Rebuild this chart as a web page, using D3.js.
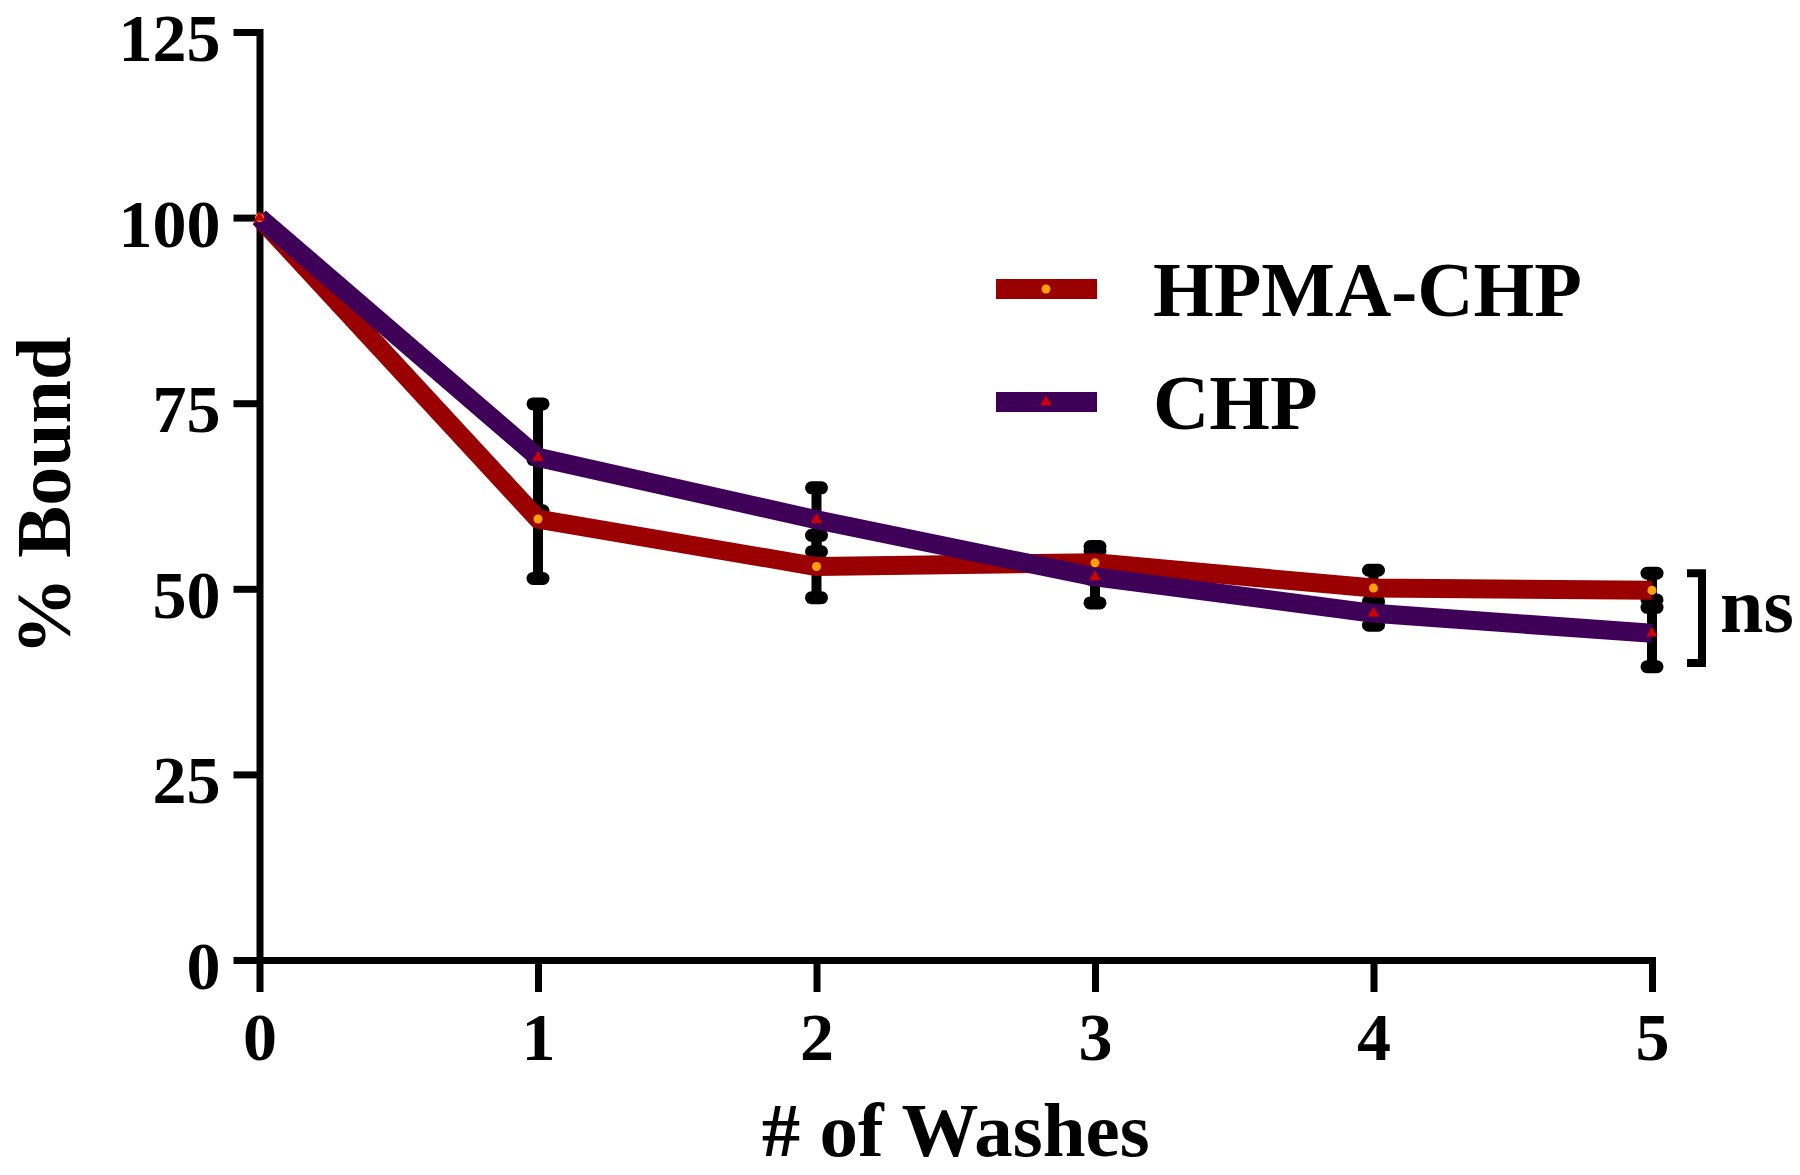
<!DOCTYPE html>
<html><head><meta charset="utf-8">
<script src="https://cdn.jsdelivr.net/npm/d3@7"></script>
<style>body{margin:0;background:#fff}svg{display:block}</style></head>
<body><svg id="c" width="1800" height="1175"></svg>
<script>
const washes = [0, 1, 2, 3, 4, 5];
const hpmaMean = [100, 59.4, 53.0, 53.5, 50.1, 49.8];
const hpmaErr  = [0, 8.0, 4.2, 2.2, 2.4, 2.3];
const chpMean  = [100, 67.7, 59.3, 51.6, 46.7, 44.0];
const chpErr   = [0, 7.2, 4.3, 3.5, 1.6, 4.5];
const yTicks = [0, 25, 50, 75, 100, 125];
const xTicks = [0, 1, 2, 3, 4, 5];
const seriesNames = ["HPMA-CHP", "CHP"];
const nsRange = [52.1, 40.0];
const nsLabel = "ns";
const xTitle = "# of Washes";
const yTitle = "% Bound";

const FONT = "'Liberation Serif','Times New Roman',serif";
const RED = "#9a0000", PURPLE = "#3f0058";
const svg = d3.select("#c");
const x = d3.scaleLinear().domain([0, 5]).range([259.5, 1652]);
const y = d3.scaleLinear().domain([0, 125]).range([960, 32]);

const series = [
  {name: seriesNames[0], mean: hpmaMean, err: hpmaErr, color: RED, marker: "circle"},
  {name: seriesNames[1], mean: chpMean, err: chpErr, color: PURPLE, marker: "triangle"}
];

// axes
const yAxis = d3.axisLeft(y).tickValues(yTicks).tickFormat(d3.format("d")).tickSize(26).tickSizeOuter(0).tickPadding(13);
const gy = svg.append("g").attr("transform", `translate(${x(0)},0)`).call(yAxis);
const xAxis = d3.axisBottom(x).tickValues(xTicks).tickFormat(d3.format("d")).tickSize(32).tickSizeOuter(0).tickPadding(20);
const gx = svg.append("g").attr("transform", `translate(0,${y(0)})`).call(xAxis);
[gy, gx].forEach(g => {
  g.select(".domain").attr("stroke", "#000").attr("stroke-width", 7).attr("stroke-linecap", "square");
  g.selectAll(".tick line").attr("stroke", "#000").attr("stroke-width", 7);
  g.selectAll(".tick text").attr("font-family", FONT).attr("font-weight", "bold")
    .attr("font-size", 68).attr("fill", "#000");
});
gy.selectAll(".tick text").attr("dy", "0.42em");
gx.selectAll(".tick text").attr("dy", "0.71em");

// error bars
const eb = svg.append("g");
series.forEach(s => {
  washes.forEach((w, i) => {
    if (s.err[i] <= 0) return;
    const lo = s.mean[i] - s.err[i], hi = s.mean[i] + s.err[i];
    eb.append("line").attr("x1", x(w)).attr("x2", x(w)).attr("y1", y(lo)).attr("y2", y(hi))
      .attr("stroke", "#000").attr("stroke-width", 10);
    [lo, hi].forEach(v => {
      eb.append("line").attr("x1", x(w) - 5).attr("x2", x(w) + 5).attr("y1", y(v)).attr("y2", y(v))
        .attr("stroke", "#000").attr("stroke-width", 13).attr("stroke-linecap", "round");
    });
  });
});

// lines
const line = d3.line().x((d, i) => x(washes[i])).y(d => y(d));
series.forEach(s => {
  svg.append("path").datum(s.mean).attr("d", line).attr("fill", "none")
    .attr("stroke", s.color).attr("stroke-width", 19).attr("stroke-linejoin", "round");
});

function drawMarker(g, type, cx, cy) {
  if (type === "circle") {
    g.append("circle").attr("cx", cx).attr("cy", cy).attr("r", 4.5).attr("fill", "#ffa200");
  } else {
    g.append("path").attr("d", d3.symbol(d3.symbolTriangle, 55)()).attr("transform", `translate(${cx},${cy})`)
      .attr("fill", "#d40000");
  }
}
const mk = svg.append("g");
series.forEach(s => {
  washes.forEach((w, i) => drawMarker(mk, s.marker, x(w), y(s.mean[i])));
});

// legend
const legY = [289, 402];
series.forEach((s, i) => {
  svg.append("line").attr("x1", 996).attr("x2", 1097).attr("y1", legY[i]).attr("y2", legY[i])
    .attr("stroke", s.color).attr("stroke-width", 20);
  drawMarker(svg, s.marker, 1046, legY[i]);
  svg.append("text").attr("x", 1153).attr("y", legY[i] + 27).attr("font-family", FONT)
    .attr("font-weight", "bold").attr("font-size", 78).attr("fill", "#000").text(s.name);
});

// ns bracket
const bx = 1702;
svg.append("path")
  .attr("d", `M${bx - 15},${y(nsRange[0])} H${bx} V${y(nsRange[1])} H${bx - 15}`)
  .attr("fill", "none").attr("stroke", "#000").attr("stroke-width", 8);
svg.append("text").attr("x", 1720).attr("y", 632).attr("font-family", FONT).attr("font-weight", "bold")
  .attr("font-size", 78).attr("fill", "#000").text(nsLabel);

// axis titles
svg.append("text").attr("x", x(2.5)).attr("y", 1156).attr("text-anchor", "middle")
  .attr("font-family", FONT).attr("font-weight", "bold").attr("font-size", 77).attr("fill", "#000").text(xTitle);
svg.append("text").attr("transform", `translate(70,${y(62.5)}) rotate(-90)`).attr("text-anchor", "middle")
  .attr("font-family", FONT).attr("font-weight", "bold").attr("font-size", 78).attr("fill", "#000").text(yTitle);
</script></body></html>
